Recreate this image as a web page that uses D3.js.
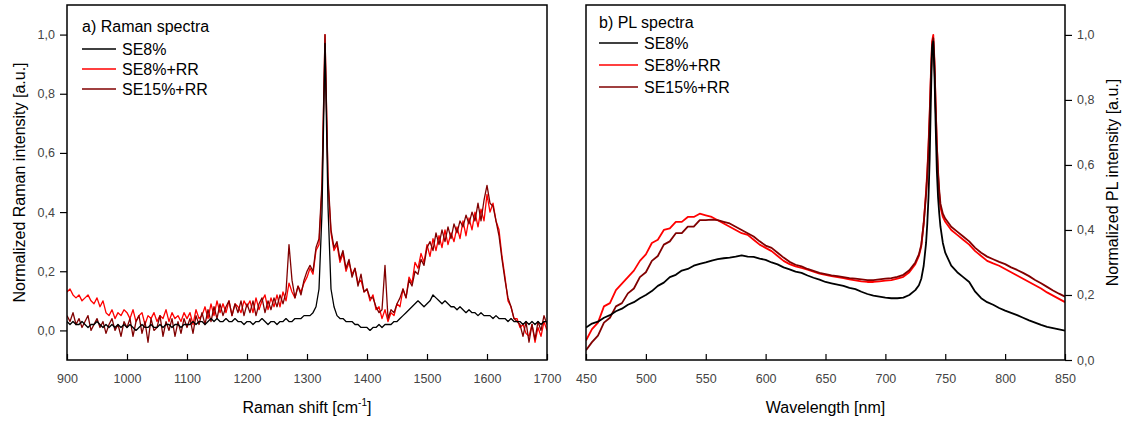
<!DOCTYPE html>
<html>
<head>
<meta charset="utf-8">
<script src="https://cdnjs.cloudflare.com/ajax/libs/d3/7.8.5/d3.min.js"></script>
<style>
  body { margin: 0; background: #fff; }
  svg text { font-family: Arial, "Liberation Sans", sans-serif; }
</style>
</head>
<body>
<svg id="chart" width="1125" height="423"></svg>
<script>
// ---- data ----
var seriesNames = ["SE8%", "SE8%+RR", "SE15%+RR"];
var seriesColors = ["#000000", "#ff0000", "#800000"];

// a) Raman spectra, shift in cm-1
var ramanShift = [
  900,905,910,915,920,925,930,935,940,945,950,955,960,965,970,975,980,985,990,995,
  1000,1005,1010,1015,1020,1025,1030,1035,1040,1045,1050,1055,1060,1065,1070,1075,1080,1085,1090,1095,
  1100,1105,1110,1115,1120,1125,1130,1135,1140,1145,1150,1155,1160,1165,1170,1175,1180,1185,1190,1195,
  1200,1205,1210,1215,1220,1225,1230,1235,1240,1245,1250,1255,1260,1265,1270,1275,1280,1285,1290,1295,
  1300,1305,1310,1315,1320,1325,1330,1335,1340,1345,1350,1355,1360,1365,1370,1375,1380,1385,1390,1395,
  1400,1405,1410,1415,1420,1425,1430,1435,1440,1445,1450,1455,1460,1465,1470,1475,1480,1485,1490,1495,
  1500,1505,1510,1515,1520,1525,1530,1535,1540,1545,1550,1555,1560,1565,1570,1575,1580,1585,1590,1595,
  1600,1605,1610,1615,1620,1625,1630,1635,1640,1645,1650,1655,1660,1665,1670,1675,1680,1685,1690,1695,
  1700
];
var ramanSE8 = [
  0.03,0.02,0.03,0.02,0.02,0.03,0.02,0.01,0.02,0.02,0.03,0.02,0.01,0.02,0.01,0.02,0.01,0.02,0.01,0.02,
  0.01,0.02,0.01,0.00,0.01,0.02,0.01,0.01,0.02,0.01,0.01,0.02,0.01,0.02,0.02,0.01,0.02,0.02,0.01,0.02,
  0.02,0.02,0.03,0.02,0.03,0.03,0.02,0.03,0.04,0.03,0.04,0.03,0.03,0.04,0.03,0.03,0.04,0.03,0.03,0.02,
  0.03,0.03,0.02,0.03,0.03,0.04,0.03,0.02,0.03,0.03,0.02,0.03,0.03,0.04,0.03,0.03,0.04,0.04,0.04,0.05,
  0.05,0.05,0.06,0.08,0.14,0.40,0.97,0.42,0.14,0.08,0.05,0.04,0.04,0.03,0.03,0.03,0.02,0.02,0.01,0.01,
  0.01,0.00,0.01,0.01,0.02,0.01,0.02,0.02,0.02,0.03,0.03,0.04,0.05,0.06,0.07,0.08,0.09,0.10,0.09,0.08,
  0.09,0.10,0.12,0.11,0.10,0.09,0.10,0.09,0.08,0.08,0.07,0.08,0.07,0.06,0.07,0.06,0.06,0.05,0.06,0.05,
  0.05,0.05,0.04,0.05,0.04,0.04,0.04,0.03,0.04,0.03,0.03,0.03,0.02,0.03,0.02,0.03,0.02,0.03,0.02,0.03,
  0.03
];
var ramanSE8RR = [
  0.13,0.14,0.12,0.11,0.12,0.10,0.11,0.12,0.10,0.09,0.11,0.08,0.10,0.06,0.05,0.07,0.04,0.06,0.05,0.07,
  0.06,0.04,0.07,0.03,0.05,0.06,0.02,0.05,0.04,0.06,0.03,0.05,0.04,0.07,0.03,0.06,0.04,0.05,0.03,0.06,
  0.04,0.06,0.02,0.07,0.04,0.05,0.08,0.04,0.09,0.05,0.10,0.06,0.09,0.06,0.10,0.05,0.09,0.08,0.06,0.10,
  0.08,0.10,0.06,0.11,0.07,0.10,0.12,0.07,0.11,0.08,0.12,0.08,0.13,0.10,0.16,0.13,0.11,0.15,0.13,0.16,
  0.18,0.21,0.19,0.27,0.29,0.48,1.00,0.50,0.33,0.27,0.29,0.23,0.26,0.20,0.23,0.19,0.21,0.16,0.17,0.13,
  0.14,0.10,0.12,0.07,0.08,0.04,0.07,0.03,0.06,0.05,0.09,0.08,0.14,0.11,0.18,0.16,0.23,0.21,0.26,0.23,
  0.29,0.25,0.31,0.27,0.32,0.28,0.34,0.29,0.33,0.30,0.35,0.31,0.37,0.32,0.38,0.34,0.40,0.35,0.41,0.37,
  0.46,0.40,0.43,0.37,0.34,0.25,0.18,0.10,0.08,0.04,0.04,0.01,0.02,-0.01,-0.02,0.02,-0.04,0.01,-0.02,0.03,
  0.00
];
var ramanSE15RR = [
  0.05,0.03,0.06,0.02,0.04,0.01,0.03,0.05,0.00,0.02,0.04,0.01,0.03,-0.01,0.02,0.04,0.00,0.02,-0.02,0.03,
  0.01,0.04,-0.02,0.03,0.05,-0.01,0.03,-0.04,0.04,0.00,0.01,0.05,-0.02,0.03,0.00,0.04,-0.02,0.03,-0.01,0.04,
  0.01,0.04,-0.01,0.05,0.02,0.06,0.02,0.07,0.03,0.08,0.04,0.09,0.05,0.08,0.10,0.05,0.09,0.06,0.10,0.05,
  0.09,0.06,0.10,0.05,0.09,0.11,0.06,0.10,0.07,0.11,0.08,0.12,0.09,0.13,0.29,0.17,0.11,0.15,0.12,0.17,
  0.20,0.22,0.20,0.28,0.31,0.50,1.00,0.52,0.34,0.28,0.30,0.24,0.27,0.21,0.24,0.18,0.21,0.15,0.19,0.13,
  0.14,0.11,0.11,0.08,0.06,0.07,0.22,0.04,0.07,0.06,0.09,0.11,0.14,0.11,0.17,0.15,0.20,0.19,0.24,0.22,
  0.28,0.30,0.27,0.33,0.29,0.34,0.30,0.35,0.31,0.36,0.33,0.37,0.35,0.39,0.36,0.40,0.37,0.43,0.37,0.44,
  0.49,0.43,0.42,0.37,0.32,0.24,0.17,0.11,0.08,0.04,0.03,0.02,-0.02,0.03,-0.04,0.02,-0.03,0.03,0.00,0.05,
  0.02
];

// b) PL spectra, wavelength in nm (denser sampling round the 740 nm line)
var plWavelength = [
  450,455,460,465,470,475,480,485,490,495,500,505,510,515,520,525,530,535,540,545,
  550,555,560,565,570,575,580,585,590,595,600,605,610,615,620,625,630,635,640,645,
  650,655,660,665,670,675,680,685,690,695,700,705,710,715,720,725,
  728,730,732,734,735,736,737,738,739,740,741,742,743,744,745,746,748,750,
  755,760,765,770,775,780,785,790,795,800,805,810,815,820,825,830,835,840,845,850
];
var plSE8 = [
  0.100,0.112,0.118,0.130,0.138,0.150,0.158,0.170,0.178,0.190,0.200,0.212,0.228,0.238,0.255,0.262,0.275,0.280,0.290,0.296,
  0.300,0.306,0.310,0.313,0.315,0.318,0.322,0.318,0.317,0.312,0.308,0.300,0.294,0.285,0.279,0.272,0.268,0.260,0.253,0.247,
  0.240,0.236,0.232,0.228,0.222,0.218,0.210,0.203,0.198,0.195,0.192,0.190,0.190,0.192,0.200,0.215,
  0.230,0.250,0.290,0.360,0.420,0.500,0.620,0.800,0.960,0.980,0.880,0.720,0.580,0.500,0.450,0.410,0.360,0.330,
  0.290,0.270,0.255,0.240,0.210,0.190,0.178,0.170,0.160,0.152,0.145,0.138,0.130,0.122,0.115,0.108,0.102,0.098,0.094,0.090
];
var plSE8RR = [
  0.060,0.095,0.115,0.165,0.175,0.215,0.235,0.255,0.275,0.305,0.325,0.360,0.370,0.400,0.405,0.425,0.425,0.440,0.440,0.450,
  0.445,0.440,0.430,0.420,0.410,0.400,0.390,0.385,0.370,0.355,0.345,0.335,0.320,0.305,0.295,0.288,0.283,0.278,0.272,0.266,
  0.262,0.258,0.255,0.252,0.248,0.245,0.242,0.240,0.240,0.242,0.244,0.246,0.250,0.256,0.270,0.295,
  0.320,0.350,0.420,0.520,0.580,0.660,0.760,0.880,0.980,1.000,0.920,0.780,0.660,0.570,0.510,0.470,0.440,0.425,
  0.400,0.385,0.370,0.355,0.335,0.320,0.305,0.297,0.290,0.280,0.270,0.260,0.250,0.240,0.230,0.220,0.208,0.198,0.188,0.178
];
var plSE15RR = [
  0.030,0.055,0.075,0.115,0.130,0.165,0.175,0.205,0.220,0.255,0.270,0.305,0.320,0.355,0.365,0.390,0.390,0.410,0.410,0.430,
  0.430,0.432,0.430,0.425,0.420,0.410,0.400,0.390,0.380,0.365,0.352,0.345,0.330,0.315,0.302,0.293,0.288,0.280,0.274,0.268,
  0.264,0.260,0.258,0.255,0.252,0.250,0.248,0.246,0.246,0.248,0.250,0.252,0.256,0.262,0.276,0.300,
  0.325,0.355,0.420,0.510,0.570,0.650,0.750,0.870,0.970,0.990,0.910,0.780,0.660,0.580,0.520,0.480,0.450,0.435,
  0.410,0.395,0.380,0.365,0.345,0.330,0.318,0.310,0.302,0.295,0.285,0.277,0.268,0.258,0.246,0.236,0.225,0.214,0.204,0.195
];

// ticks
var ramanXTicks = [900,1000,1100,1200,1300,1400,1500,1600,1700];
var plXTicks = [450,500,550,600,650,700,750,800,850];
var yTicks = [0,0.2,0.4,0.6,0.8,1.0];

// ---- drawing ----
var svg = d3.select("#chart");
var fmt = function(d){ return d3.format(".1f")(d).replace(".", ","); };

function drawPanel(p) {
  var x = d3.scaleLinear().domain(p.xDomain).range([p.left, p.right]);
  var y = d3.scaleLinear().domain(p.yDomain).range([p.bottom, p.top]);
  var g = svg.append("g");

  g.append("clipPath").attr("id", p.id + "clip")
    .append("rect")
    .attr("x", p.left).attr("y", p.top)
    .attr("width", p.right - p.left).attr("height", p.bottom - p.top);

  // x axis, ticks point inwards
  var xa = g.append("g")
    .attr("transform", "translate(0," + p.bottom + ")")
    .call(d3.axisBottom(x).tickValues(p.xTicks).tickFormat(d3.format("d"))
      .tickSizeInner(-6).tickSizeOuter(0).tickPadding(14));

  // y axis on the requested side, ticks outwards
  var yAxis = p.ySide == "left" ? d3.axisLeft(y) : d3.axisRight(y);
  var ya = g.append("g")
    .attr("transform", "translate(" + (p.ySide == "left" ? p.left : p.right) + ",0)")
    .call(yAxis.tickValues(yTicks).tickFormat(fmt).tickSize(7).tickPadding(5));

  [xa, ya].forEach(function(a){
    a.select(".domain").remove();
    a.selectAll("line").attr("stroke", "#000").attr("stroke-width", 1.2);
    a.selectAll("text").attr("fill", "#444").style("font-size", "12.5px");
  });

  // curves: red, dark red, then black on top
  var line = d3.line().x(function(d){ return x(d[0]); }).y(function(d){ return y(d[1]); });
  [1, 2, 0].forEach(function(i){
    var pts = p.xs.map(function(v, k){ return [v, p.series[i][k]]; });
    g.append("path")
      .datum(pts)
      .attr("clip-path", "url(#" + p.id + "clip)")
      .attr("fill", "none")
      .attr("stroke", seriesColors[i])
      .attr("stroke-width", p.lw)
      .attr("stroke-linejoin", "round")
      .attr("d", line);
  });

  // frame
  g.append("rect")
    .attr("x", p.left).attr("y", p.top)
    .attr("width", p.right - p.left).attr("height", p.bottom - p.top)
    .attr("fill", "none").attr("stroke", "#000").attr("stroke-width", 1.5);

  // legend
  g.append("text").attr("x", p.legX).attr("y", p.legTitleY)
    .style("font-size", "16px").text(p.title);
  seriesNames.forEach(function(name, i){
    var ly = p.legY + i * p.legStep;
    g.append("line")
      .attr("x1", p.legX).attr("x2", p.legX + p.legLen)
      .attr("y1", ly).attr("y2", ly)
      .attr("stroke", seriesColors[i]).attr("stroke-width", 1.5);
    g.append("text").attr("x", p.legX + p.legLen + 6).attr("y", ly + 6)
      .style("font-size", "16px").text(name);
  });

  // axis titles
  var xt = g.append("text")
    .attr("x", (p.left + p.right) / 2).attr("y", 413)
    .attr("text-anchor", "middle").style("font-size", "16px");
  p.xTitle(xt);

  g.append("text")
    .attr("transform", "translate(" + p.yTitleX + "," + ((p.top + p.bottom) / 2) + ") rotate(-90)")
    .attr("text-anchor", "middle").style("font-size", "16px")
    .text(p.yTitle);
}

drawPanel({
  id: "raman", left: 67, right: 547, top: 5, bottom: 360,
  xDomain: [900, 1700], yDomain: [-0.1, 1.1], xTicks: ramanXTicks, ySide: "left",
  xs: ramanShift, series: [ramanSE8, ramanSE8RR, ramanSE15RR], lw: 1.3,
  title: "a) Raman spectra", legX: 82, legTitleY: 32, legY: 49, legStep: 20, legLen: 34,
  xTitle: function(t){
    t.append("tspan").text("Raman shift [cm");
    t.append("tspan").attr("dy", -7).style("font-size", "10px").text("-1");
    t.append("tspan").attr("dy", 7).text("]");
  },
  yTitle: "Normalized Raman intensity [a.u.]", yTitleX: 25
});

drawPanel({
  id: "pl", left: 586, right: 1065, top: 5, bottom: 360,
  xDomain: [450, 850], yDomain: [0, 1.092], xTicks: plXTicks, ySide: "right",
  xs: plWavelength, series: [plSE8, plSE8RR, plSE15RR], lw: 1.8,
  title: "b) PL spectra", legX: 599, legTitleY: 28, legY: 43, legStep: 22, legLen: 39,
  xTitle: function(t){ t.text("Wavelength [nm]"); },
  yTitle: "Normalized PL intensity [a.u.]", yTitleX: 1118
});
</script>
</body>
</html>
